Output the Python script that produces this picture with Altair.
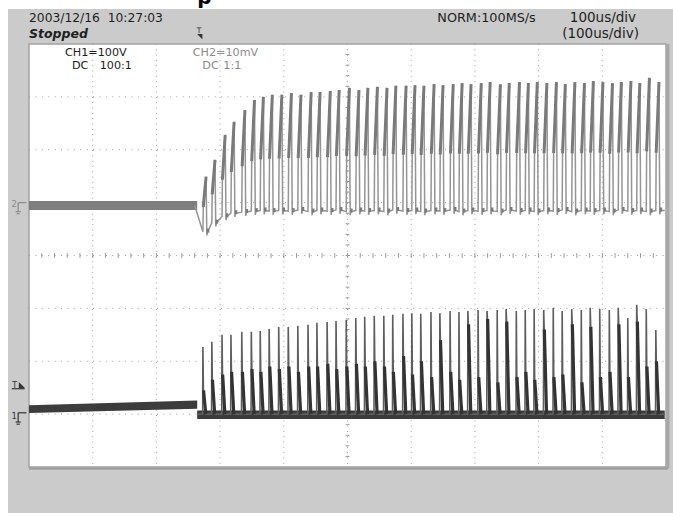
import altair as alt
import pandas as pd

# ---------------- data (screen divisions: x 0..10 = 100 us/div, y -4..4) ----------------
cycle_t = [2.73, 2.87, 3.03, 3.17, 3.34, 3.49, 3.63, 3.77, 3.92, 4.07,
           4.22, 4.38, 4.52, 4.68, 4.82, 4.98, 5.13, 5.27, 5.42, 5.57,
           5.71, 5.87, 6.01, 6.15, 6.31, 6.45, 6.61, 6.75, 6.89, 7.05,
           7.19, 7.35, 7.49, 7.65, 7.79, 7.93, 8.08, 8.23, 8.37, 8.52,
           8.67, 8.81, 8.96, 9.11, 9.25, 9.40, 9.54, 9.69, 9.84]
ch2_peak = [1.49, 1.81, 2.28, 2.53, 2.75, 2.94, 3.00, 3.04, 3.04, 3.07,
            3.04, 3.09, 3.09, 3.11, 3.13, 3.17, 3.13, 3.17, 3.19, 3.17,
            3.21, 3.21, 3.22, 3.21, 3.24, 3.22, 3.24, 3.26, 3.24, 3.26,
            3.28, 3.24, 3.26, 3.28, 3.26, 3.28, 3.26, 3.28, 3.24, 3.28,
            3.26, 3.30, 3.28, 3.26, 3.28, 3.30, 3.26, 3.36, 3.28]
ch2_low = [0.45, 0.62, 0.74, 0.80, 0.82, 0.84, 0.85, 0.84, 0.85, 0.84,
           0.86, 0.83, 0.85, 0.84, 0.86, 0.83, 0.85, 0.84, 0.85, 0.83,
           0.86, 0.84, 0.85, 0.83, 0.85, 0.84, 0.86, 0.83, 0.85, 0.84,
           0.85, 0.83, 0.86, 0.84, 0.85, 0.83, 0.85, 0.84, 0.86, 0.83,
           0.85, 0.84, 0.85, 0.83, 0.86, 0.84, 0.85, 0.83, 0.85]
ch1_peak = [-1.73, -1.63, -1.50, -1.50, -1.44, -1.44, -1.43, -1.39, -1.35, -1.35,
            -1.33, -1.31, -1.27, -1.26, -1.24, -1.22, -1.18, -1.16, -1.14, -1.14,
            -1.12, -1.10, -1.09, -1.10, -1.07, -1.09, -1.05, -1.07, -1.05, -1.03,
            -1.05, -1.03, -1.01, -1.05, -1.03, -1.01, -1.03, -0.99, -1.05, -1.01,
            -1.03, -0.99, -1.01, -1.03, -0.99, -1.18, -0.93, -1.01, -1.41]
ch1_knee = [-2.55, -2.35, -2.25, -2.20, -2.20, -2.15, -2.20, -2.10, -2.15, -2.10,
            -2.20, -2.10, -2.10, -2.05, -2.15, -2.10, -2.05, -2.10, -2.00, -2.10,
            -2.20, -1.90, -2.25, -2.00, -2.30, -1.60, -2.20, -2.35, -1.30, -2.30,
            -1.20, -2.40, -1.25, -2.30, -2.20, -2.35, -1.40, -2.30, -2.25, -1.30,
            -2.40, -1.35, -2.30, -2.20, -1.30, -2.30, -1.25, -2.10, -2.00]
ch1_base = -3.0

# pre-trigger noise bands and post-trigger ch1 base band
ch2_band = {"x": [0.0, 2.64], "top": [1.03, 1.03], "bot": [0.86, 0.86]}
ch1_band = {"x": [0.0, 2.64], "top": [-2.83, -2.74], "bot": [-2.98, -2.90]}
ch1_post = {"x": [2.64, 9.98], "top": [-2.93, -2.93], "bot": [-3.09, -3.09]}

grid_x = [1, 2, 3, 4, 6, 7, 8, 9]
grid_y = [-3, -2, -1, 1, 2, 3]

# ---------------- build tables ----------------
ch2_rows = [{"x": 2.60, "y": 0.95}]
ch2_ramp = []
ch2_blob = []
for t, p, lo in zip(cycle_t, ch2_peak, ch2_low):
    k = lo + 0.45 * (p - lo)
    ch2_rows += [{"x": t, "y": lo}, {"x": t + 0.006, "y": k}, {"x": t + 0.05, "y": p},
                 {"x": t + 0.062, "y": lo - 0.07}, {"x": t + 0.075, "y": lo}]
    ch2_ramp.append({"x": t + 0.006, "y": k, "x2": t + 0.05, "y2": p})
    ch2_blob.append({"x": t + 0.062, "y": lo + 0.02, "x2": t + 0.1, "y2": lo + 0.02})
ch2_rows.append({"x": 9.98, "y": 0.85})

ch1_rows = [{"x": 2.64, "y": ch1_base}]
ch1_dark = []
for t, p, k in zip(cycle_t, ch1_peak, ch1_knee):
    ch1_rows += [{"x": t - 0.004, "y": ch1_base}, {"x": t, "y": p},
                 {"x": t + 0.008, "y": k}, {"x": t + 0.045, "y": ch1_base}]
    ch1_dark.append({"x": t + 0.01, "y": k, "x2": t + 0.045, "y2": ch1_base})
ch1_rows.append({"x": 9.98, "y": ch1_base})

xs = alt.Scale(domain=[0, 10], nice=False, zero=False)
ys = alt.Scale(domain=[-4, 4], nice=False, zero=False)


def X(f="x"):
    return alt.X(f"{f}:Q", scale=xs, axis=None)


def Y(f="y"):
    return alt.Y(f"{f}:Q", scale=ys, axis=None)


def df(d):
    return pd.DataFrame(d)


layers = []

# gray scope panel and white graticule
layers.append(alt.Chart(df({"x": [-0.33], "x2": [10.11], "y": [4.66], "y2": [-4.87]}))
              .mark_rect(color="#cbcbcb")
              .encode(x=X(), x2="x2:Q", y=Y(), y2="y2:Q"))
layers.append(alt.Chart(df({"x": [0], "x2": [10], "y": [4], "y2": [-4]}))
              .mark_rect(fill="white", stroke="#a3a3a3", strokeWidth=1.5)
              .encode(x=X(), x2="x2:Q", y=Y(), y2="y2:Q"))
layers.append(alt.Chart(df({"x": [10.03], "y": [4.0], "y2": [-4.03]}))
              .mark_rule(color="#a8a8a8", strokeWidth=3)
              .encode(x=X(), y=Y(), y2="y2:Q"))
layers.append(alt.Chart(df({"x": [0.0], "x2": [10.03], "y": [-4.03]}))
              .mark_rule(color="#a0a0a0", strokeWidth=2.5)
              .encode(x=X(), x2="x2:Q", y=Y()))

# dotted grid
layers.append(alt.Chart(df({"x": grid_x + [5]}))
              .mark_rule(color="#a0a0a0", strokeWidth=1, strokeDash=[1, 4.3])
              .encode(x=X(), y=alt.value(0), y2=alt.value(423)))
layers.append(alt.Chart(df({"y": grid_y + [0]}))
              .mark_rule(color="#a0a0a0", strokeWidth=1, strokeDash=[1, 5.4])
              .encode(y=Y(), x=alt.value(0), x2=alt.value(637)))
# centre-line minor ticks
tick_h = [{"x": i * 0.2, "y": 0.045, "y2": -0.045} for i in range(1, 50)]
tick_v = [{"y": -4 + i * 0.2, "x": 4.97, "x2": 5.03} for i in range(1, 40)]
layers.append(alt.Chart(df(tick_h)).mark_rule(color="#9a9a9a", strokeWidth=1)
              .encode(x=X(), y=Y(), y2="y2:Q"))
layers.append(alt.Chart(df(tick_v)).mark_rule(color="#9a9a9a", strokeWidth=1)
              .encode(y=Y(), x=X(), x2="x2:Q"))

# ---- CH2 (upper, light gray) ----
layers.append(alt.Chart(df(ch2_band)).mark_area(color="#7f7f7f")
              .encode(x=X(), y=Y("top"), y2="bot:Q"))
layers.append(alt.Chart(df(ch2_rows)).mark_line(color="#959595", strokeWidth=1.5)
              .encode(x=X(), y=Y()))
layers.append(alt.Chart(df(ch2_ramp)).mark_rule(color="#7a7a7a", strokeWidth=3)
              .encode(x=X(), x2="x2:Q", y=Y(), y2="y2:Q"))
layers.append(alt.Chart(df(ch2_blob)).mark_rule(color="#7a7a7a", strokeWidth=4)
              .encode(x=X(), x2="x2:Q", y=Y(), y2="y2:Q"))

# ---- CH1 (lower, dark) ----
layers.append(alt.Chart(df(ch1_band)).mark_area(color="#3c3c3c")
              .encode(x=X(), y=Y("top"), y2="bot:Q"))
layers.append(alt.Chart(df(ch1_post)).mark_area(color="#3c3c3c")
              .encode(x=X(), y=Y("top"), y2="bot:Q"))
layers.append(alt.Chart(df(ch1_rows)).mark_line(color="#5e5e5e", strokeWidth=1.6)
              .encode(x=X(), y=Y()))
layers.append(alt.Chart(df(ch1_dark)).mark_rule(color="#333333", strokeWidth=3.2)
              .encode(x=X(), x2="x2:Q", y=Y(), y2="y2:Q"))

# ---- texts ----
def txt(items, size, color="#1e1e1e", style="normal", weight="normal", align="left"):
    return (alt.Chart(df(items))
            .mark_text(align=align, baseline="alphabetic", font="DejaVu Sans", fontSize=size,
                       fontStyle=style, fontWeight=weight, color=color)
            .encode(x=X(), y=Y(), text="t:N"))

layers.append(txt([{"x": 0.0, "y": 4.41, "t": "2003/12/16\u00a0\u00a010:27:03"}], 12.3))
layers.append(txt([{"x": 0.0, "y": 4.11, "t": "Stopped"}], 12.5, style="italic", weight="bold"))
layers.append(txt([{"x": 6.41, "y": 4.41, "t": "NORM:100MS/s"}], 12.8))
layers.append(txt([{"x": 8.49, "y": 4.41, "t": "100us/div"}], 13.5))
layers.append(txt([{"x": 8.37, "y": 4.11, "t": "(100us/div)"}], 13.5))
layers.append(txt([{"x": 0.565, "y": 3.77, "t": "CH1=100V"},
                   {"x": 0.675, "y": 3.53, "t": "DC"},
                   {"x": 1.11, "y": 3.53, "t": "100:1"}], 11.2))
layers.append(txt([{"x": 2.57, "y": 3.77, "t": "CH2=10mV"},
                   {"x": 2.72, "y": 3.53, "t": "DC"},
                   {"x": 3.05, "y": 3.53, "t": "1:1"}], 11.2, color="#8c8c8c"))
# cut-off glyph at very top
layers.append(txt([{"x": 2.64, "y": 4.76, "t": "p"}], 20, color="#000000", weight="bold"))

# trigger position marker (top)
layers.append(txt([{"x": 2.67, "y": 4.21, "t": "T"}], 7.5, color="#333333", align="center"))
layers.append(alt.Chart(df({"x": [2.68], "y": [4.14]}))
              .mark_point(shape="M -1 -1 L 1 -1 L 1 1 Z", filled=True, size=28, color="#333333", opacity=1)
              .encode(x=X(), y=Y()))

# left channel markers
layers.append(txt([{"x": -0.19, "y": 0.92, "t": "2"}], 8.5, color="#8c8c8c", align="right"))
layers.append(txt([{"x": -0.19, "y": -3.09, "t": "1"}], 8.5, color="#333333", align="right"))
gnd = [
    {"x": -0.17, "x2": -0.04, "y": 1.0, "y2": 1.0, "c": "a"},
    {"x": -0.17, "x2": -0.17, "y": 1.0, "y2": 0.83, "c": "a"},
    {"x": -0.21, "x2": -0.13, "y": 0.83, "y2": 0.83, "c": "a"},
    {"x": -0.195, "x2": -0.145, "y": 0.79, "y2": 0.79, "c": "a"},
    {"x": -0.17, "x2": -0.04, "y": -2.975, "y2": -2.975, "c": "b"},
    {"x": -0.17, "x2": -0.17, "y": -2.975, "y2": -3.15, "c": "b"},
    {"x": -0.21, "x2": -0.13, "y": -3.15, "y2": -3.15, "c": "b"},
    {"x": -0.195, "x2": -0.145, "y": -3.19, "y2": -3.19, "c": "b"},
    {"x": -0.27, "x2": -0.07, "y": -2.52, "y2": -2.52, "c": "b"},
]
layers.append(alt.Chart(df(gnd)).mark_rule(strokeWidth=1.2)
              .encode(x=X(), x2="x2:Q", y=Y(), y2="y2:Q",
                      color=alt.Color("c:N", scale=alt.Scale(domain=["a", "b"], range=["#8c8c8c", "#333333"]),
                                      legend=None)))
layers.append(txt([{"x": -0.225, "y": -2.50, "t": "T"}], 8, color="#333333", align="center"))
layers.append(alt.Chart(df({"x": [-0.11], "y": [-2.45]}))
              .mark_point(shape="M -1 -1 L 1 1 L -1 1 Z", filled=True, size=40, color="#333333", opacity=1)
              .encode(x=X(), y=Y()))

chart = (alt.layer(*layers)
         .properties(width=637, height=423,
                     padding={"left": 29, "top": 44, "right": 7, "bottom": 46},
                     autosize=alt.AutoSizeParams(type="none"),
                     background="white")
         .configure_view(stroke=None))

chart.save("out.html", embed_options={"renderer": "svg", "actions": False})
